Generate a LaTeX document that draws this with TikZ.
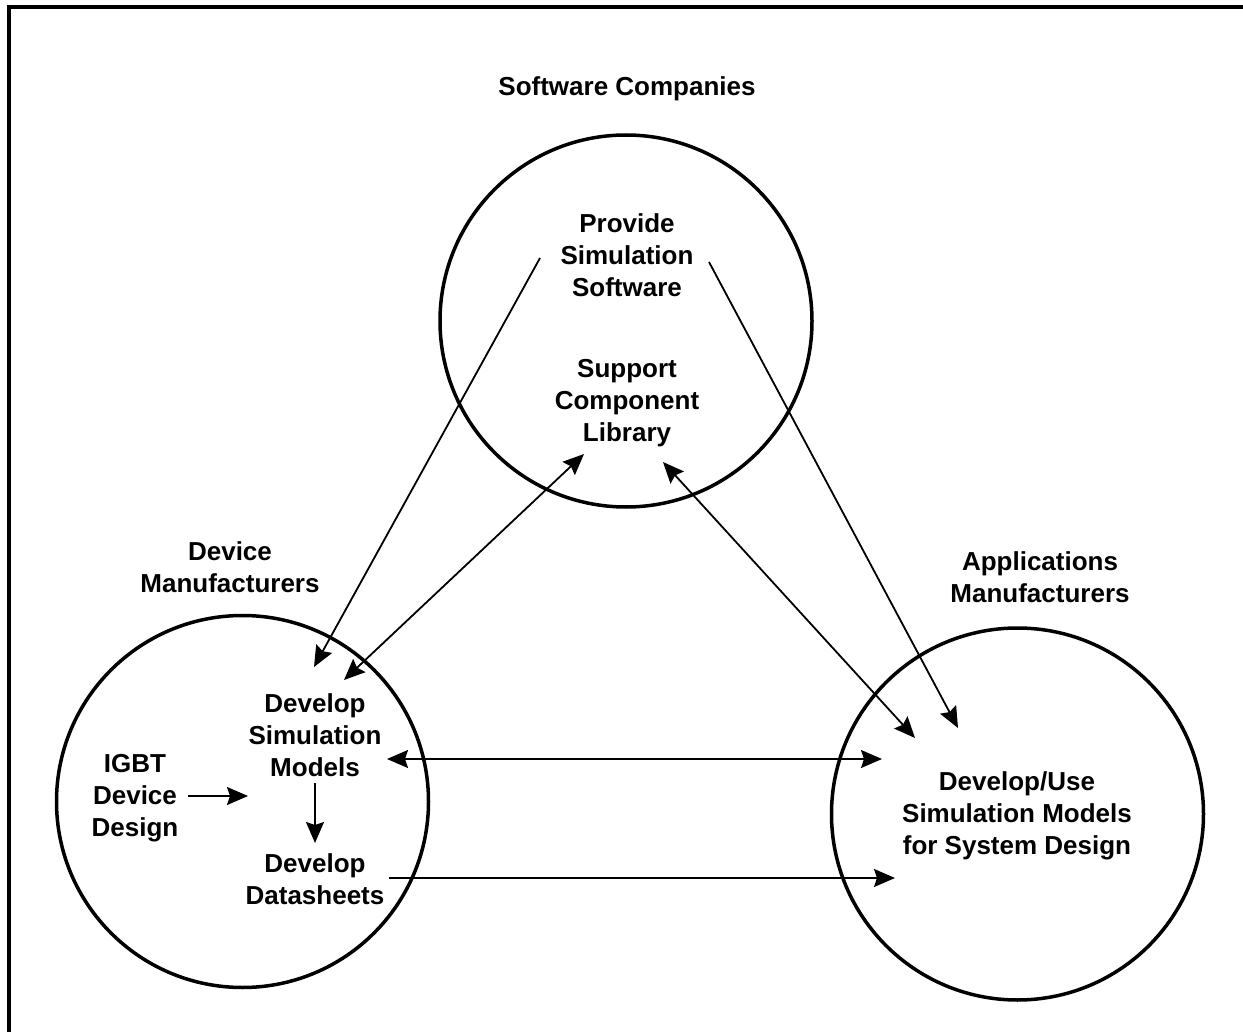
\documentclass[tikz,border=0pt]{standalone}
\usepackage{fontspec}
\setmainfont{Liberation Sans}
\usetikzlibrary{arrows.meta}
\begin{document}
\begin{tikzpicture}[x=1pt,y=-1pt,
  lbl/.style={font=\bfseries\fontsize{26}{32}\selectfont, align=center, inner sep=0pt},
  ring/.style={draw, circle, line width=3.5pt, minimum size=372pt, inner sep=0pt},
  conn/.style={line width=1.8pt, -{Stealth[length=21pt,width=18pt,inset=3pt]}},
  dconn/.style={line width=1.8pt, {Stealth[length=21pt,width=18pt,inset=3pt]}-{Stealth[length=21pt,width=18pt,inset=3pt]}}]
\useasboundingbox (0,0) rectangle (1243,1032);
% frame (left and top edges)
\draw[line width=4pt] (9,1034) -- (9,7) -- (1245,7);

% circles
\node[ring] (swc) at (626,321) {};
\node[ring] (dmc) at (242.5,801.5) {};
\node[ring] (amc) at (1017.5,814) {};

% labels
\node[lbl] (swname) at (627,89) {Software Companies};
\node[lbl] (provide) at (627,255) {Provide\\Simulation\\Software};
\node[lbl] (support) at (627,403) {Support\\Component\\Library};
\node[lbl] (dmname) at (230,567) {Device\\Manufacturers};
\node[lbl] (amname) at (1040,577) {Applications\\Manufacturers};
\node[lbl] (devsim) at (315,735) {Develop\\Simulation\\Models};
\node[lbl] (igbt) at (135,798) {IGBT\\Device\\Design};
\node[lbl] (devds) at (315,879) {Develop\\Datasheets};
\node[lbl] (devuse) at (1017,816) {Develop/Use\\Simulation Models\\for System Design};

% connector end points
\coordinate (p1s) at (540,258);  \coordinate (p1e) at (314,667);
\coordinate (p2s) at (584,454);  \coordinate (p2e) at (344,680);
\coordinate (p3s) at (663,462);  \coordinate (p3e) at (915,738);
\coordinate (p4s) at (709,262);  \coordinate (p4e) at (958,728);
\coordinate (p5s) at (387,759);  \coordinate (p5e) at (882,759);
\coordinate (p6s) at (389,878);  \coordinate (p6e) at (895,878);
\coordinate (p7s) at (188,796);  \coordinate (p7e) at (248,796);
\coordinate (p8s) at (315,783);  \coordinate (p8e) at (315,843);

% connectors
\draw[conn] (p1s) -- (p1e);
\draw[dconn] (p2s) -- (p2e);
\draw[dconn] (p3s) -- (p3e);
\draw[conn] (p4s) -- (p4e);
\draw[dconn] (p5s) -- (p5e);
\draw[conn] (p6s) -- (p6e);
\draw[conn] (p7s) -- (p7e);
\draw[conn] (p8s) -- (p8e);
\end{tikzpicture}
\end{document}
